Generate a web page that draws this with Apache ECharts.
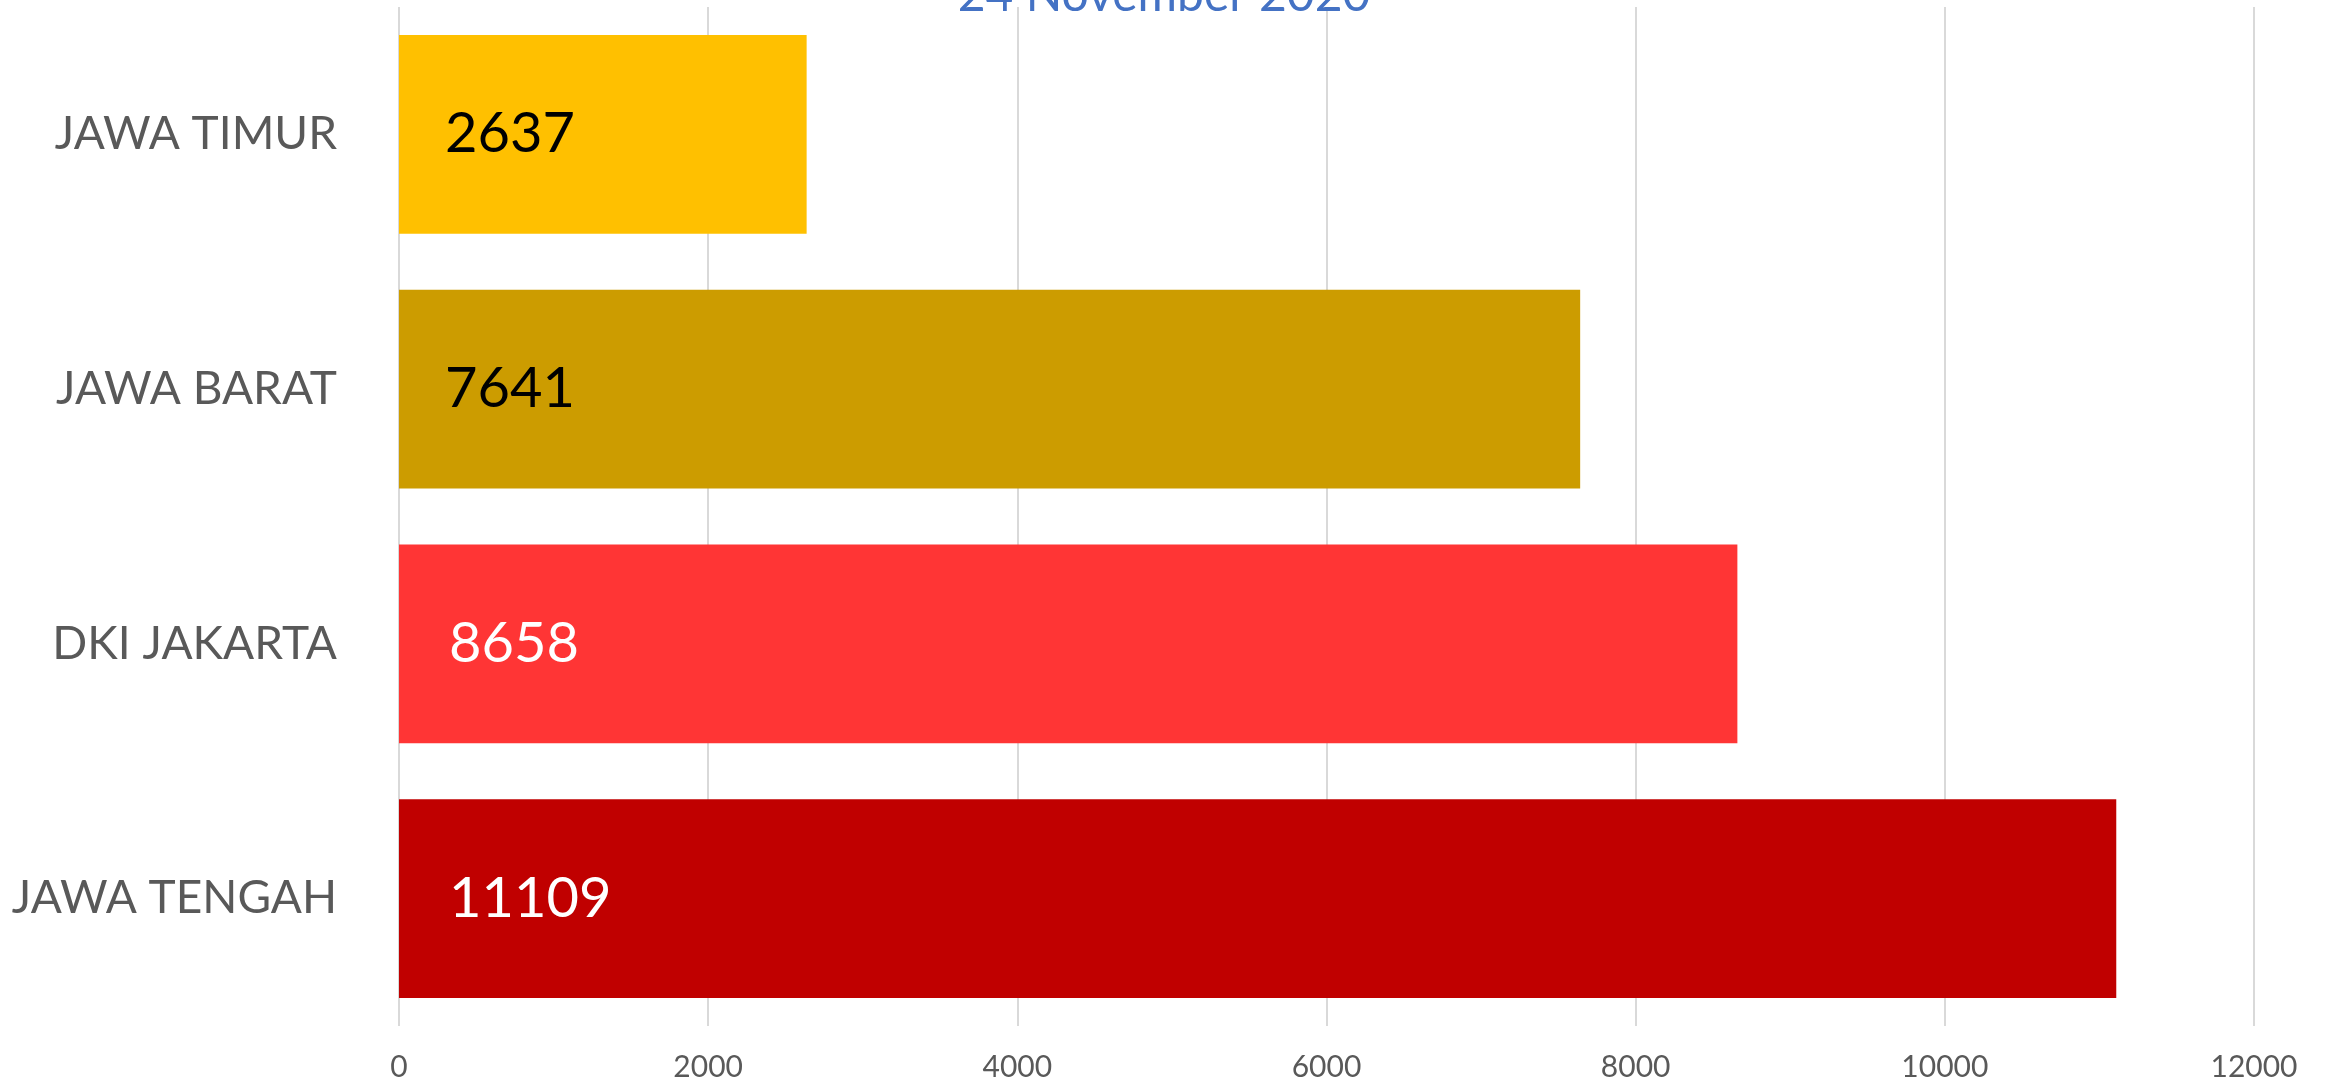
<!DOCTYPE html>
<html>
<head>
<meta charset="utf-8">
<script src="https://cdn.jsdelivr.net/npm/echarts@6/dist/echarts.min.js"></script>
<style>
html,body{margin:0;padding:0;background:#fff;}
#c{width:2328px;height:1083px;}
</style>
</head>
<body>
<div id="c"></div>
<script>
const titleText = '24 November 2020';
const categories = ['JAWA TIMUR', 'JAWA BARAT', 'DKI JAKARTA', 'JAWA TENGAH'];
const values = [2637, 7641, 8658, 11109];
const barColors = ['#FFC000', '#CC9C00', '#FF3535', '#C00000'];
const labelColors = ['#000000', '#000000', '#FFFFFF', '#FFFFFF'];
const xTicks = [0, 2000, 4000, 6000, 8000, 10000, 12000];

const FONT = 'Lato, "Open Sans", sans-serif';
const chart = echarts.init(document.getElementById('c'));
chart.setOption({
  animation: false,
  backgroundColor: '#ffffff',
  title: {
    text: titleText,
    left: 'center',
    top: -33,
    textStyle: { color: '#4472C4', fontFamily: FONT, fontSize: 48, fontWeight: 'normal' }
  },
  grid: { left: 399, right: 74, top: 7, bottom: 57, containLabel: false },
  xAxis: {
    type: 'value',
    min: xTicks[0],
    max: xTicks[xTicks.length - 1],
    interval: xTicks[1] - xTicks[0],
    axisLine: { show: false },
    axisTick: { show: false },
    splitLine: { show: true, lineStyle: { color: '#D9D9D9', width: 2 } },
    axisLabel: { color: '#595959', fontFamily: FONT, fontSize: 30, margin: 26, formatter: v => String(v) }
  },
  yAxis: {
    type: 'category',
    inverse: true,
    data: categories,
    axisLine: { show: false },
    axisTick: { show: false },
    axisLabel: { color: '#595959', fontFamily: FONT, fontSize: 46, margin: 62 }
  },
  series: [{
    type: 'bar',
    barWidth: '78%',
    data: values.map((v, i) => ({
      value: v,
      itemStyle: { color: barColors[i] },
      label: { color: labelColors[i], distance: i < 2 ? 46 : 50 }
    })),
    label: {
      show: true,
      position: 'insideLeft',
      distance: 46,
      fontFamily: FONT,
      fontSize: 56
    }
  }]
});
</script>
</body>
</html>
